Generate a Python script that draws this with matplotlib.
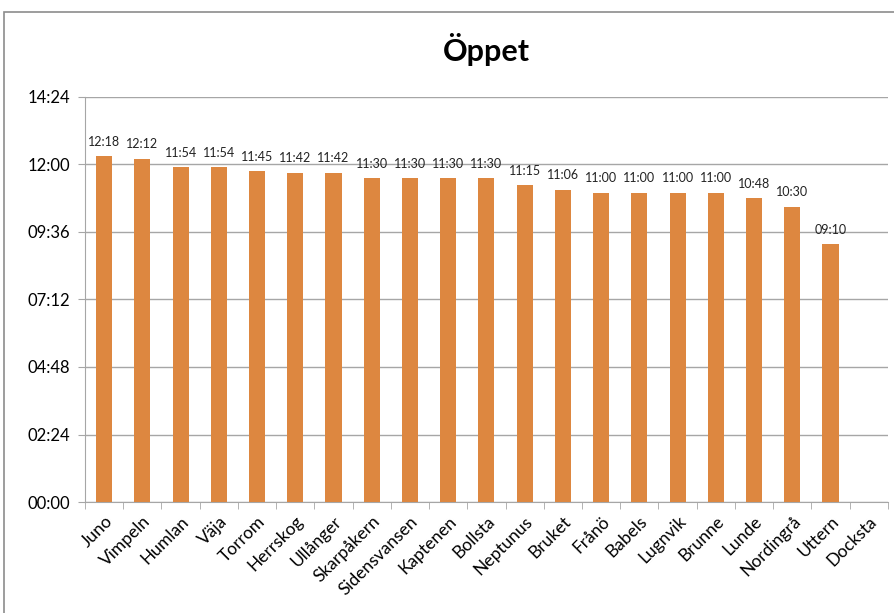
import numpy as np
import matplotlib.pyplot as plt
from matplotlib.patches import Rectangle

plt.rcParams['font.family'] = ['Lato', 'DejaVu Sans']

# opening hours per site, as hh:mm
sites = ['Juno', 'Vimpeln', 'Humlan', 'Väja', 'Torrom', 'Herrskog', 'Ullånger',
         'Skarpåkern', 'Sidensvansen', 'Kaptenen', 'Bollsta', 'Neptunus', 'Bruket',
         'Frånö', 'Babels', 'Lugnvik', 'Brunne', 'Lunde', 'Nordingrå', 'Uttern', 'Docksta']
hours = ['12:18', '12:12', '11:54', '11:54', '11:45', '11:42', '11:42',
         '11:30', '11:30', '11:30', '11:30', '11:15', '11:06',
         '11:00', '11:00', '11:00', '11:00', '10:48', '10:30', '09:10', None]
yticks = ['00:00', '02:24', '04:48', '07:12', '09:36', '12:00', '14:24']


def to_min(s):
    h, m = s.split(':')
    return int(h) * 60 + int(m)


vals = [to_min(h) if h else 0 for h in hours]
x = np.arange(len(sites))

fig = plt.figure(figsize=(8.95, 6.13), dpi=100)
ax = fig.add_axes([0.095, 0.181, 0.897, 0.661])

bar_color = '#DD8740'
ax.bar(x, vals, width=0.42, color=bar_color, zorder=3)

for xi, v, h in zip(x, vals, hours):
    if h:
        ax.text(xi, v + 18, h, ha='center', va='bottom', fontsize=9, color='#222222')

ytv = [to_min(t) for t in yticks]
ax.set_ylim(0, ytv[-1])
ax.set_yticks(ytv)
ax.set_yticklabels(yticks, fontsize=12)
ax.yaxis.grid(True, color='#A6A6A6', linewidth=1, zorder=0)
ax.set_xlim(-0.5, len(sites) - 0.5)

ax.set_xticks(x)
ax.set_xticklabels(sites, rotation=45, ha='right', rotation_mode='anchor', fontsize=12.5)
ax.tick_params(axis='x', length=0, pad=8)
ax.set_xticks(np.arange(-0.5, len(sites)), minor=True)
ax.tick_params(axis='x', which='minor', length=5, color='#A6A6A6')
ax.tick_params(axis='y', length=5, color='#A6A6A6', pad=6)

for side in ['top', 'right']:
    ax.spines[side].set_visible(False)
ax.spines['left'].set_color('#A6A6A6')
ax.spines['bottom'].set_color('#A6A6A6')

ax.set_title('Öppet', fontsize=22, fontweight='bold', pad=26)

# chart frame
fig.patches.append(Rectangle((4 / 895, -0.1), 1.2, 1.1 - 12 / 613, transform=fig.transFigure,
                             fill=False, edgecolor='#8C8C8C', linewidth=1.2))

fig.savefig('out.png', dpi=100)
